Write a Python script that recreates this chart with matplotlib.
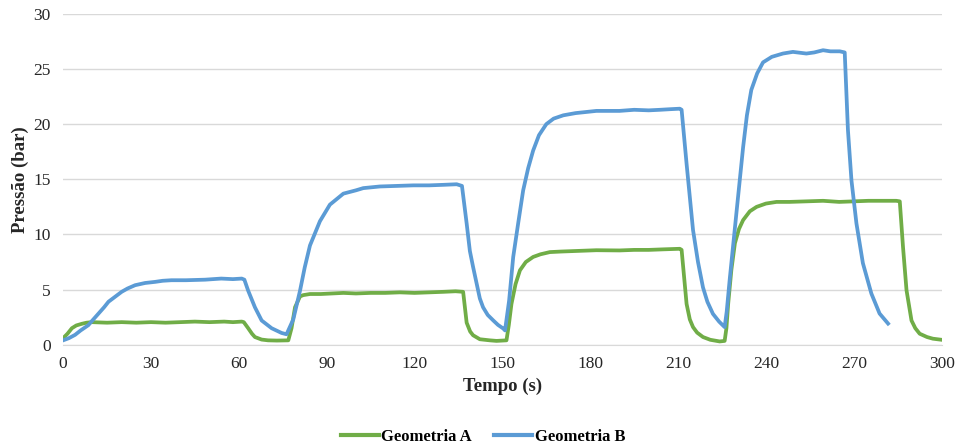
import matplotlib
matplotlib.use("Agg")
from matplotlib import pyplot as plt

# Geometria A
t_a = [0, 1.5, 3, 4.5, 6.4, 8, 9.8, 15, 20, 25, 30, 35, 40, 45, 50, 55, 58, 61,
       61.7, 63.2, 64.5, 65.5, 67.8, 70, 73, 76.9, 78, 79.2, 80.9, 82, 84.3, 88,
       95.7, 100, 105, 110, 115, 120, 125, 130, 134, 136.6, 137.8, 139, 140,
       142.3, 145.7, 148, 151.4, 152.2, 153.1, 154.5, 156, 158, 160.5, 163,
       166.2, 170, 175, 182.1, 190, 195, 200, 205, 210.6, 211.2, 212.9, 214,
       215.1, 216.5, 218.5, 221, 224.2, 225.9, 226.5, 227.1, 228.2, 229.4,
       230.8, 232.2, 234.5, 236.8, 240, 243.6, 248, 253.8, 259.5, 265, 270,
       275, 280, 284.5, 285.7, 286.8, 288, 289.7, 291, 292.5, 295, 297, 300]
p_a = [0.6, 1.0, 1.5, 1.75, 1.9, 2.0, 2.05, 2.0, 2.05, 2.0, 2.05, 2.0, 2.05,
       2.1, 2.05, 2.1, 2.05, 2.1, 2.05, 1.5, 1.0, 0.7, 0.47, 0.4, 0.38, 0.4,
       1.5, 3.4, 4.38, 4.5, 4.6, 4.6, 4.7, 4.65, 4.7, 4.7, 4.75, 4.7, 4.75,
       4.8, 4.85, 4.8, 2.0, 1.2, 0.86, 0.5, 0.4, 0.35, 0.4, 1.8, 3.7, 5.5,
       6.75, 7.5, 7.96, 8.2, 8.4, 8.45, 8.5, 8.57, 8.55, 8.6, 8.6, 8.65, 8.7,
       8.6, 3.7, 2.3, 1.6, 1.1, 0.7, 0.45, 0.3, 0.35, 1.5, 3.7, 6.8, 9.2,
       10.5, 11.3, 12.1, 12.5, 12.8, 12.95, 12.95, 13.0, 13.05, 12.95, 13.0,
       13.05, 13.05, 13.05, 13.0, 8.87, 4.94, 2.2, 1.5, 1.0, 0.7, 0.55, 0.45]

# Geometria B
t_b = [0, 2, 4.1, 6, 8.6, 10, 12, 14, 15.5, 18, 20, 22, 24.6, 28, 31.4, 34,
       37, 42, 48.5, 54, 58, 61, 61.9, 63.2, 65.5, 67.8, 71.2, 74.6, 76.3,
       78.6, 80.9, 82.5, 84.3, 87.7, 91.1, 95.7, 100, 102.5, 108.2, 114,
       119.6, 125, 130, 134.4, 136.2, 137.8, 138.9, 140, 142.3, 143.4, 145,
       146.9, 148.5, 150.3, 150.9, 152.3, 153.7, 155.5, 157.1, 158.8, 160.5,
       162.5, 165, 167.5, 170.8, 175, 182.1, 190, 195, 200, 203.8, 207, 210.6,
       211.2, 212.9, 215.1, 216.8, 218.5, 220, 221.9, 224, 225.9, 226.6,
       227.6, 229.9, 232.2, 233.5, 235, 237, 239, 242, 245.8, 249.2, 253.8,
       256.5, 259.5, 262, 265.2, 266.9, 268, 269.2, 270.9, 273.1, 276, 278.8,
       281.7]
p_b = [0.4, 0.6, 0.9, 1.3, 1.77, 2.2, 2.8, 3.4, 3.9, 4.4, 4.8, 5.1, 5.4, 5.6,
       5.7, 5.8, 5.85, 5.85, 5.9, 6.0, 5.95, 6.0, 5.9, 4.9, 3.4, 2.2, 1.5,
       1.07, 0.95, 2.3, 4.9, 7.0, 9.0, 11.2, 12.7, 13.7, 14.0, 14.2, 14.35,
       14.4, 14.45, 14.45, 14.5, 14.55, 14.4, 11.0, 8.5, 7.05, 4.2, 3.4, 2.7,
       2.2, 1.8, 1.47, 1.3, 4.0, 7.96, 11.2, 14.0, 16.0, 17.6, 19.0, 20.0,
       20.5, 20.8, 21.0, 21.2, 21.2, 21.3, 21.25, 21.3, 21.35, 21.4, 21.3,
       16.4, 10.4, 7.5, 5.2, 3.9, 2.8, 2.1, 1.6, 3.0, 5.85, 11.9, 17.9, 20.8,
       23.1, 24.6, 25.6, 26.1, 26.4, 26.55, 26.4, 26.5, 26.7, 26.6, 26.6,
       26.5, 19.45, 14.9, 11.0, 7.4, 4.64, 2.83, 1.92]

x_ticks = list(range(0, 301, 30))
y_ticks = list(range(0, 31, 5))

plt.rcParams['font.family'] = ['Liberation Serif', 'DejaVu Serif']

fig = plt.figure(figsize=(9.56, 4.46), dpi=100)
ax = fig.add_axes([0.066, 0.227, 0.919, 0.742])

ax.plot(t_a, p_a, color='#70AD47', lw=2.7, label='Geometria A', solid_joinstyle='round')
ax.plot(t_b, p_b, color='#5B9BD5', lw=2.7, label='Geometria B', solid_joinstyle='round')

ax.set_xlim(0, 300)
ax.set_ylim(0, 30)
ax.set_xticks(x_ticks)
ax.set_yticks(y_ticks)
ax.grid(axis='y', color='#D9D9D9', lw=1)
ax.set_axisbelow(True)
for s in ['top', 'right', 'left']:
    ax.spines[s].set_visible(False)
ax.spines['bottom'].set_color('#D9D9D9')
ax.tick_params(length=0, labelsize=12.5, colors='#262626', pad=8)
ax.tick_params(axis='y', pad=9)

ax.set_xlabel('Tempo (s)', fontsize=13.5, fontweight='bold', color='#262626', labelpad=4)
ax.set_ylabel('Pressão (bar)', fontsize=13.5, fontweight='bold', color='#262626', labelpad=3)

leg = fig.legend(loc='center', bbox_to_anchor=(0.505, 0.02), ncol=2, frameon=False,
                 prop={'weight': 'bold', 'size': 12}, handlelength=2.3, handletextpad=0.15,
                 columnspacing=1.3)
for h in leg.legend_handles:
    h.set_linewidth(3)

fig.savefig('out.png', dpi=100)
